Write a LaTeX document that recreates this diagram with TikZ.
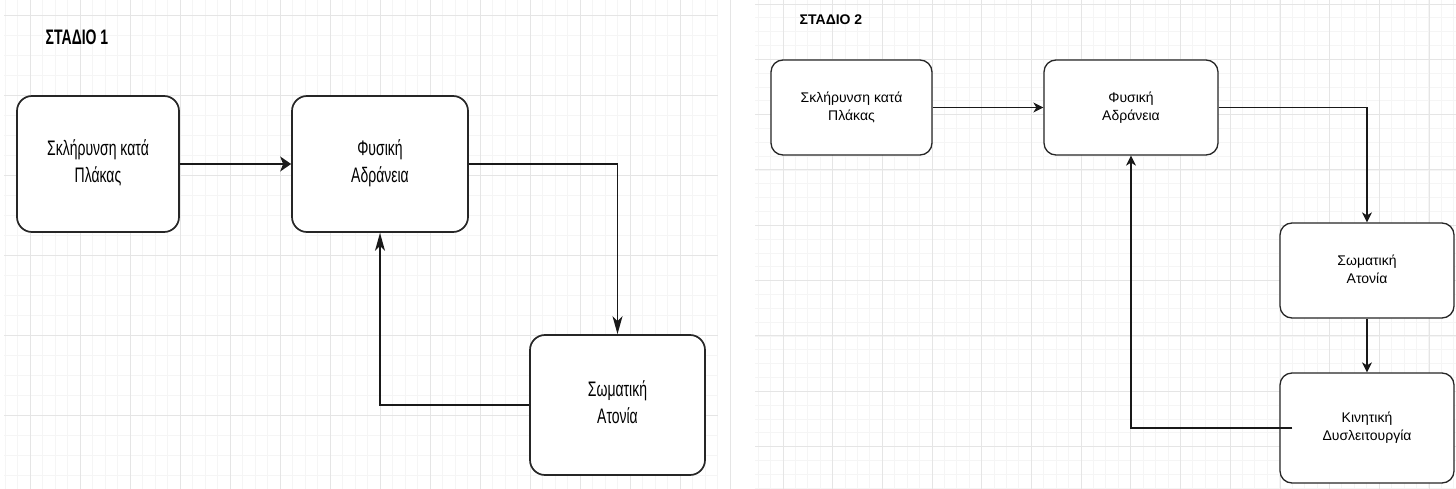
\documentclass[tikz,border=0pt]{standalone}
\usepackage{fontspec}
\setmainfont{Liberation Sans}
\usepackage{graphicx}
\usetikzlibrary{arrows.meta}
\newcommand\ltxt[1]{\scalebox{1}[1.5]{\fontsize{14}{18}\selectfont\begin{tabular}{@{}c@{}}#1\end{tabular}}}
\newcommand\rtxt[1]{{\fontsize{14}{18}\selectfont\begin{tabular}{@{}c@{}}#1\end{tabular}}}
\begin{document}
\begin{tikzpicture}[x=1pt,y=-1pt,
  fine/.style={draw=black!4, line width=0.7pt},
  major/.style={draw=black!10, line width=0.9pt},
  boxl/.style={draw=black!85, line width=1.7pt, rounded corners=15pt, fill=white, inner sep=0pt, align=center, text=black},
  boxr/.style={draw=black!85, line width=1.3pt, rounded corners=12pt, fill=white, inner sep=0pt, align=center, text=black},
  arlh/.style={draw=black!90, line width=1.6pt, -{Stealth[length=11pt,width=15pt,inset=3pt]}},
  arlv/.style={draw=black!90, line width=1.6pt, -{Stealth[length=18pt,width=10pt,inset=5pt]}},
  arr/.style={draw=black!90, line width=1.2pt, -{Stealth[length=10pt,width=10pt,inset=3pt]}}
]
\useasboundingbox[fill=white] (0,0) rectangle (1456,489);
% left grid
\foreach \i in {0,...,57} {\draw[fine] ({5+12.5*\i},0) -- ({5+12.5*\i},489);}
\foreach \i in {0,...,24} {\draw[fine] (4,{-5+20*\i}) -- (718,{-5+20*\i});}
\foreach \i in {0,...,14} {\draw[major] ({30+50*\i},0) -- ({30+50*\i},489);}
\foreach \i in {0,...,6} {\draw[major] (4,{15+80*\i}) -- (718,{15+80*\i});}
% right grid
\foreach \i in {0,...,56} {\draw[fine] ({758+12.42*\i},0) -- ({758+12.42*\i},489);}
\foreach \i in {0,...,35} {\draw[fine] (755,{4+13.83*\i}) -- (1456,{4+13.83*\i});}
\foreach \i in {0,...,13} {\draw[major] ({783+49.7*\i},0) -- ({783+49.7*\i},489);}
\foreach \i in {0,...,8} {\draw[major] (755,{4+55.3*\i}) -- (1456,{4+55.3*\i});}

% Stage 1
\node[text=black] (t1) at (77,37) {\scalebox{1}[1.5]{\fontsize{14}{18}\selectfont\bfseries ΣΤΑΔΙΟ 1}};
\node[boxl, minimum width=162pt, minimum height=136pt] (a1) at (98,164) {\ltxt{Σκλήρυνση κατά\\Πλάκας}};
\node[boxl, minimum width=176pt, minimum height=136pt] (b1) at (380,164) {\ltxt{Φυσική\\Αδράνεια}};
\node[boxl, minimum width=175pt, minimum height=140pt] (c1) at (617.5,405) {\ltxt{Σωματική\\Ατονία}};
\draw[arlh] (a1) -- (b1);
\draw[arlv] (b1.east) -| (c1.north);
\draw[arlv] (c1.west) -| (b1.south);

% Stage 2
\node[text=black] (t2) at (831,20) {\fontsize{14}{18}\selectfont\bfseries ΣΤΑΔΙΟ 2};
\node[boxr, minimum width=161pt, minimum height=95pt] (a2) at (851.5,107.5) {\rtxt{Σκλήρυνση κατά\\Πλάκας}};
\node[boxr, minimum width=174pt, minimum height=95pt] (b2) at (1131,107.5) {\rtxt{Φυσική\\Αδράνεια}};
\node[boxr, minimum width=174pt, minimum height=95pt] (c2) at (1367,270.5) {\rtxt{Σωματική\\Ατονία}};
\node[boxr, minimum width=174pt, minimum height=110pt] (d2) at (1367,428) {\rtxt{Κινητική\\Δυσλειτουργία}};
\draw[arr] (a2) -- (b2);
\draw[arr] (b2.east) -| (c2.north);
\draw[arr] (c2) -- (d2);
\draw[arr] ([xshift=13pt]d2.west) -| (b2.south);
\end{tikzpicture}
\end{document}
